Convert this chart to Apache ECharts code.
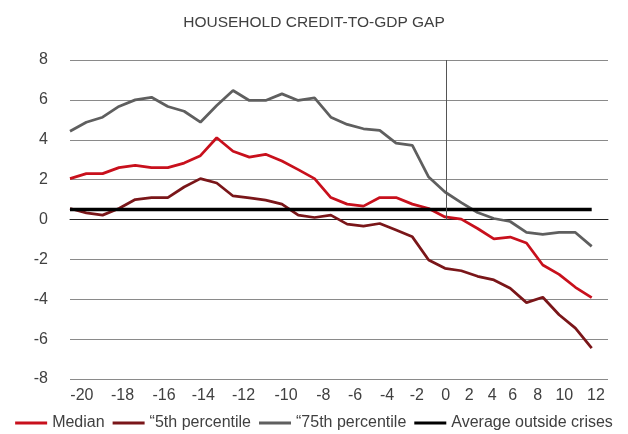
<!DOCTYPE html>
<html>
<head>
<meta charset="utf-8">
<title>Household credit-to-GDP gap</title>
<script src="https://cdn.jsdelivr.net/npm/echarts@6.0.0/dist/echarts.min.js"></script>
<style>
  html, body { margin: 0; padding: 0; background: #fff; }
  #chart { width: 628px; height: 434px; }
</style>
</head>
<body>
<div id="chart"></div>
<script>
// quarters around the crisis
const quarters = [-20,-19,-18,-17,-16,-15,-14,-13,-12,-11,-10,-9,-8,-7,-6,-5,-4,-3,-2,-1,0,1,2,3,4,5,6,7,8,9,10,11,12];

const median = [2.05,2.3,2.3,2.6,2.72,2.6,2.6,2.83,3.2,4.1,3.42,3.13,3.27,2.93,2.5,2.05,1.1,
  0.77,0.67,1.1,1.1,0.77,0.55,0.13,0.02,-0.45,-0.97,-0.88,-1.18,-2.28,-2.75,-3.4,-3.92];
const p5 = [0.55,0.33,0.22,0.55,1.0,1.1,1.1,1.63,2.05,1.83,1.18,1.08,0.97,0.77,0.22,0.1,0.22,
  -0.23,-0.33,-0.2,-0.53,-0.87,-2.03,-2.45,-2.57,-2.85,-3.03,-3.45,-4.17,-3.9,-4.78,-5.45,-6.45];
const p75 = [4.43,4.88,5.13,5.67,6.0,6.13,5.67,5.43,4.88,5.72,6.47,5.97,5.97,6.3,5.97,6.1,5.13,
  4.77,4.55,4.47,3.83,3.72,2.13,1.38,0.85,0.35,0.05,-0.1,-0.65,-0.75,-0.65,-0.65,-1.35];
const avgOutside = [0.5,0.5,0.5,0.5,0.5,0.5,0.5,0.5,0.5,0.5,0.5,0.5,0.5,0.5,0.5,0.5,0.5,
  0.5,0.5,0.5,0.5,0.5,0.5,0.5,0.5,0.5,0.5,0.5,0.5,0.5,0.5,0.5,0.5];

// x tick labels as printed (they sit unevenly in the original)
const tickLabels = ['-20','-18','-16','-14','-12','-10','-8','-6','-4','-2','0','2','4','6','8','10','12'];
// where each label sits along the quarter axis
const tickPos = [-19.27,-16.78,-14.23,-11.82,-9.36,-6.75,-4.46,-2.51,-0.55,1.27,3.05,4.49,5.9,7.16,8.69,10.32,12.26];

const seriesNames = ['Median','\u201c5th percentile','\u201c75th percentile','Average outside crises'];

const FONT = '"Liberation Sans", Arial, sans-serif';
const TEXT = '#404040';

const chart = echarts.init(document.getElementById('chart'));

const pairs = (ys) => quarters.map((q, i) => [q, ys[i]]);
const zeroLinePos = tickPos[tickLabels.indexOf('0')];

const option = {
  animation: false,
  title: {
    text: 'HOUSEHOLD CREDIT-TO-GDP GAP',
    left: 'center',
    top: 10,
    textStyle: { fontFamily: FONT, fontSize: 15.5, fontWeight: 'normal', color: TEXT }
  },
  grid: { left: 70, right: 20, top: 60, bottom: 55 },
  legend: {
    data: seriesNames,
    left: 'center',
    top: 410,
    icon: 'rect',
    itemWidth: 32,
    itemHeight: 3,
    itemGap: 8,
    textStyle: { fontFamily: FONT, fontSize: 16, color: TEXT }
  },
  xAxis: {
    type: 'value',
    min: -20,
    max: 13,
    axisLine: { onZero: true, lineStyle: { color: '#222', width: 1 } },
    axisTick: { show: false },
    splitLine: { show: false },
    axisLabel: {
      customValues: tickPos,
      margin: 9,
      fontFamily: FONT,
      fontSize: 16,
      color: TEXT,
      formatter: (v) => {
        let best = 0;
        tickPos.forEach((p, i) => { if (Math.abs(p - v) < Math.abs(tickPos[best] - v)) best = i; });
        return tickLabels[best];
      }
    }
  },
  yAxis: {
    type: 'value',
    min: -8,
    max: 8,
    interval: 2,
    axisLine: { show: false },
    axisTick: { show: false },
    splitLine: { lineStyle: { color: '#8a8a8a', width: 1 } },
    axisLabel: { margin: 22, fontFamily: FONT, fontSize: 16, color: TEXT }
  },
  series: [
    {
      name: seriesNames[0], type: 'line', data: pairs(median),
      symbol: 'none', color: '#c8101c', lineStyle: { width: 2.75 }
    },
    {
      name: seriesNames[1], type: 'line', data: pairs(p5),
      symbol: 'none', color: '#7a1619', lineStyle: { width: 2.75 }
    },
    {
      name: seriesNames[2], type: 'line', data: pairs(p75),
      symbol: 'none', color: '#5f5f5f', lineStyle: { width: 2.75 }
    },
    {
      name: seriesNames[3], type: 'line', data: pairs(avgOutside),
      symbol: 'none', color: '#000', lineStyle: { width: 3.5 },
      // crisis marker
      markLine: {
        silent: true,
        symbol: 'none',
        label: { show: false },
        lineStyle: { color: '#555', width: 1, type: 'solid' },
        data: [[{ coord: [zeroLinePos, 8] }, { coord: [zeroLinePos, 0] }]]
      }
    }
  ]
};

chart.setOption(option);
</script>
</body>
</html>
